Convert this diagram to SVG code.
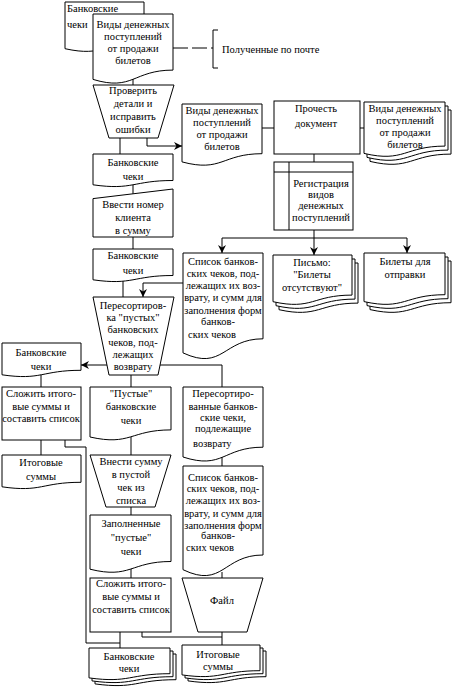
<svg xmlns="http://www.w3.org/2000/svg" width="452" height="689" viewBox="0 0 452 689">
<style>
.s{fill:#fff;stroke:#000;stroke-width:1}
.c{fill:none;stroke:#000;stroke-width:1}
text{font-family:"Liberation Serif","Times New Roman",serif;font-size:10.5px;fill:#000;text-anchor:middle}
.l{text-anchor:start}
</style>
<defs>
<marker id="arr" viewBox="0 0 10 10" refX="10" refY="5" markerWidth="8" markerHeight="8" orient="auto" markerUnits="userSpaceOnUse"><path d="M0,0 L10,5 L0,10 L3,5 Z" fill="#000"/></marker>
</defs>
<rect width="452" height="689" fill="#fff"/>
<g id="connectors">
<path class="c" d="M133,78 V85"/>
<path class="c" d="M173,48 H213" stroke-dasharray="15,4"/>
<path class="c" d="M120,138 V154"/>
<path class="c" d="M147,138 V146 H182" marker-end="url(#arr)"/>
<path class="c" d="M133,184 V194"/>
<path class="c" d="M133,237 V249"/>
<path class="c" d="M123,280 V297"/>
<path class="c" d="M183,283 H143 V297" marker-end="url(#arr)"/>
<path class="c" d="M262,128 H274"/>
<path class="c" d="M360,128 H364"/>
<path class="c" d="M314,154 V162"/>
<path class="c" d="M314,230 V238"/>
<path class="c" d="M222,238 H407"/>
<path class="c" d="M222,238 V253" marker-end="url(#arr)"/>
<path class="c" d="M314,238 V255" marker-end="url(#arr)"/>
<path class="c" d="M407,238 V253" marker-end="url(#arr)"/>
<path class="c" d="M108,365 H81" marker-end="url(#arr)"/>
<path class="c" d="M131,374 V387"/>
<path class="c" d="M159,365 H222 V387"/>
<path class="c" d="M41,374 V387"/>
<path class="c" d="M41,440 V455"/>
<path class="c" d="M65,440 V447 H86 V643 H120"/>
<path class="c" d="M131,436 V455"/>
<path class="c" d="M131,507 V515"/>
<path class="c" d="M131,567 V578"/>
<path class="c" d="M120,632 V648"/>
<path class="c" d="M142,632 V637 H222"/>
<path class="c" d="M222,452 V466"/>
<path class="c" d="M222,572 V578"/>
<path class="c" d="M222,632 V645"/>
</g>
<g id="n1">
<path class="s" d="M65,2 H144 V42.1 C104.5,42.1 104.5,57.4 65,48.7 Z"/>
<text class="l" x="67" y="12">Банковские</text>
<text class="l" x="67" y="28">чеки</text>
</g>
<g id="n2">
<path class="s" d="M93,14 H173 V70.1 C133,70.1 133,91.5 93,79.4 Z"/>
<text x="133" y="28">Виды денежных</text>
<text x="133" y="40">поступлений</text>
<text x="133" y="52">от продажи</text>
<text x="133" y="64">билетов</text>
</g>
<g id="n3">
<path class="c" d="M218,30 H213 V68 H218"/>
<text class="l" x="222" y="53">Полученные по почте</text>
</g>
<g id="n4">
<path class="s" d="M93,85 H174 L158,138 H109 Z"/>
<text x="133" y="94">Проверить</text>
<text x="133" y="107">детали и</text>
<text x="133" y="120">исправить</text>
<text x="133" y="133">ошибки</text>
</g>
<g id="n5">
<path class="s" d="M93,154 H173 V180.5 C133,180.5 133,190.5 93,184.8 Z"/>
<text x="133" y="166">Банковские</text>
<text x="133" y="180">чеки</text>
</g>
<g id="n6">
<path class="s" d="M93,198.6 L173,189 V237 H93 Z"/>
<text x="133" y="208">Ввести номер</text>
<text x="133" y="221">клиента</text>
<text x="133" y="234">в сумму</text>
</g>
<g id="n7">
<path class="s" d="M93,249 H173 V275.5 C133,275.5 133,285.5 93,279.8 Z"/>
<text x="133" y="259">Банковские</text>
<text x="133" y="274">чеки</text>
</g>
<g id="n8">
<path class="s" d="M182,104 H262 V153.7 C222,153.7 222,172.6 182,161.9 Z"/>
<text x="222" y="114">Виды денежных</text>
<text x="222" y="126">поступлений</text>
<text x="222" y="138">от продажи</text>
<text x="222" y="150">билетов</text>
</g>
<g id="n9">
<rect class="s" x="274" y="101" width="86" height="53"/>
<text x="316" y="112">Прочесть</text>
<text x="316" y="127">документ</text>
</g>
<g id="n10">
<path class="s" d="M370,110 H451 V154.1 C410.5,154.1 410.5,170.9 370,161.4 Z"/>
<path class="s" d="M367,106 H448 V150.1 C407.5,150.1 407.5,166.9 367,157.4 Z"/>
<path class="s" d="M364,102 H445 V146.1 C404.5,146.1 404.5,162.9 364,153.4 Z"/>
<text x="405" y="112">Виды денежных</text>
<text x="405" y="124">поступлений</text>
<text x="405" y="136">от продажи</text>
<text x="405" y="148">билетов</text>
</g>
<g id="n11">
<rect class="s" x="274" y="162" width="79" height="68"/>
<path class="c" d="M274,172 H353 M289,162 V230"/>
<text x="321" y="187">Регистрация</text>
<text x="321" y="198">видов</text>
<text x="321" y="209">денежных</text>
<text x="321" y="221">поступлений</text>
</g>
<g id="n12">
<path class="s" d="M183,253 H263 V338.8 C223,338.8 223,371.4 183,352.9 Z"/>
<text x="223" y="265">Список банков-</text>
<text x="223" y="277">ских чеков, под-</text>
<text x="223" y="289">лежащих их воз-</text>
<text x="223" y="301">врату, и сумм для</text>
<text x="223" y="314">заполнения форм</text>
<text x="218" y="325">банков-</text>
<text class="l" x="188" y="338">ских чеков</text>
</g>
<g id="n13">
<path class="s" d="M279,263 H358 V303.1 C318.5,303.1 318.5,318.4 279,309.7 Z"/>
<path class="s" d="M276,259 H355 V299.1 C315.5,299.1 315.5,314.4 276,305.7 Z"/>
<path class="s" d="M273,255 H352 V295.1 C312.5,295.1 312.5,310.4 273,301.7 Z"/>
<text x="312" y="266">Письмо:</text>
<text x="312" y="278">"Билеты</text>
<text x="312" y="291">отсутствуют"</text>
</g>
<g id="n14">
<path class="s" d="M370,261 H451 V302.7 C410.5,302.7 410.5,318.6 370,309.6 Z"/>
<path class="s" d="M367,257 H448 V298.7 C407.5,298.7 407.5,314.6 367,305.6 Z"/>
<path class="s" d="M364,253 H445 V294.7 C404.5,294.7 404.5,310.6 364,301.6 Z"/>
<text x="405" y="265">Билеты для</text>
<text x="405" y="278">отправки</text>
</g>
<g id="n15">
<path class="s" d="M93,297 H174 L158,375 H109 Z"/>
<text x="133" y="309">Пересортиров-</text>
<text x="133" y="321">ка "пустых"</text>
<text x="133" y="333">банковских</text>
<text x="133" y="346">чеков, под-</text>
<text x="133" y="358">лежащих</text>
<text x="133" y="370">возврату</text>
</g>
<g id="n16">
<path class="s" d="M2,343 H81 V370.3 C41.5,370.3 41.5,380.6 2,374.8 Z"/>
<text x="41" y="356">Банковские</text>
<text x="41" y="370">чеки</text>
</g>
<g id="n17">
<rect class="s" x="2" y="387" width="79" height="53"/>
<text x="41" y="397">Сложить итого-</text>
<text x="41" y="410">вые суммы и</text>
<text x="41" y="422">составить список</text>
</g>
<g id="n18">
<path class="s" d="M2,455 H81 V482.3 C41.5,482.3 41.5,492.6 2,486.8 Z"/>
<text x="41" y="466">Итоговые</text>
<text x="41" y="480">суммы</text>
</g>
<g id="n19">
<path class="s" d="M90,387 H171 V429.9 C130.5,429.9 130.5,446.2 90,437 Z"/>
<text x="131" y="397">"Пустые"</text>
<text x="131" y="410">банковские</text>
<text x="131" y="424">чеки</text>
</g>
<g id="n20">
<path class="s" d="M90,455 H171 L155,507 H106 Z"/>
<text x="131" y="465">Внести сумму</text>
<text x="131" y="478">в пустой</text>
<text x="131" y="491">чек из</text>
<text x="131" y="504">списка</text>
</g>
<g id="n21">
<path class="s" d="M90,515 H171 V561.5 C130.5,561.5 130.5,579.2 90,569.2 Z"/>
<text x="131" y="527">Заполненные</text>
<text x="131" y="541">"пустые"</text>
<text x="131" y="555">чеки</text>
</g>
<g id="n22">
<rect class="s" x="90" y="578" width="81" height="54"/>
<text x="131" y="587">Сложить итого-</text>
<text x="131" y="600">вые суммы и</text>
<text x="131" y="613">составить список</text>
</g>
<g id="n23">
<path class="s" d="M95,654 H176 V679.7 C135.5,679.7 135.5,689.4 95,683.9 Z"/>
<path class="s" d="M92,651 H173 V676.7 C132.5,676.7 132.5,686.4 92,680.9 Z"/>
<path class="s" d="M89,648 H170 V673.7 C129.5,673.7 129.5,683.4 89,677.9 Z"/>
<text x="129" y="660">Банковские</text>
<text x="129" y="672">чеки</text>
</g>
<g id="n24">
<path class="s" d="M183,387 H263 V447.2 C223,447.2 223,470 183,457 Z"/>
<text x="223" y="397">Пересортиро-</text>
<text x="223" y="410">ванные банков-</text>
<text x="223" y="421">ские чеки,</text>
<text x="223" y="432">подлежащие</text>
<text class="l" x="193" y="447">возврату</text>
</g>
<g id="n25">
<path class="s" d="M183,466 H263 V555 C223,555 223,588.9 183,569.7 Z"/>
<text x="223" y="481">Список банков-</text>
<text x="223" y="492">ских чеков, под-</text>
<text x="223" y="504">лежащих их воз-</text>
<text x="223" y="517">врату, и сумм для</text>
<text x="223" y="529">заполнения форм</text>
<text x="218" y="539">банков-</text>
<text class="l" x="186" y="551">ских чеков</text>
</g>
<g id="n26">
<path class="s" d="M182,578 H263 L247,632 H198 Z"/>
<text x="222" y="604">Файл</text>
</g>
<g id="n27">
<path class="s" d="M188,651 H266 V676.7 C227,676.7 227,686.4 188,680.9 Z"/>
<path class="s" d="M185,648 H263 V673.7 C224,673.7 224,683.4 185,677.9 Z"/>
<path class="s" d="M182,645 H260 V670.7 C221,670.7 221,680.4 182,674.9 Z"/>
<text x="218" y="658">Итоговые</text>
<text x="218" y="670">суммы</text>
</g>
</svg>
